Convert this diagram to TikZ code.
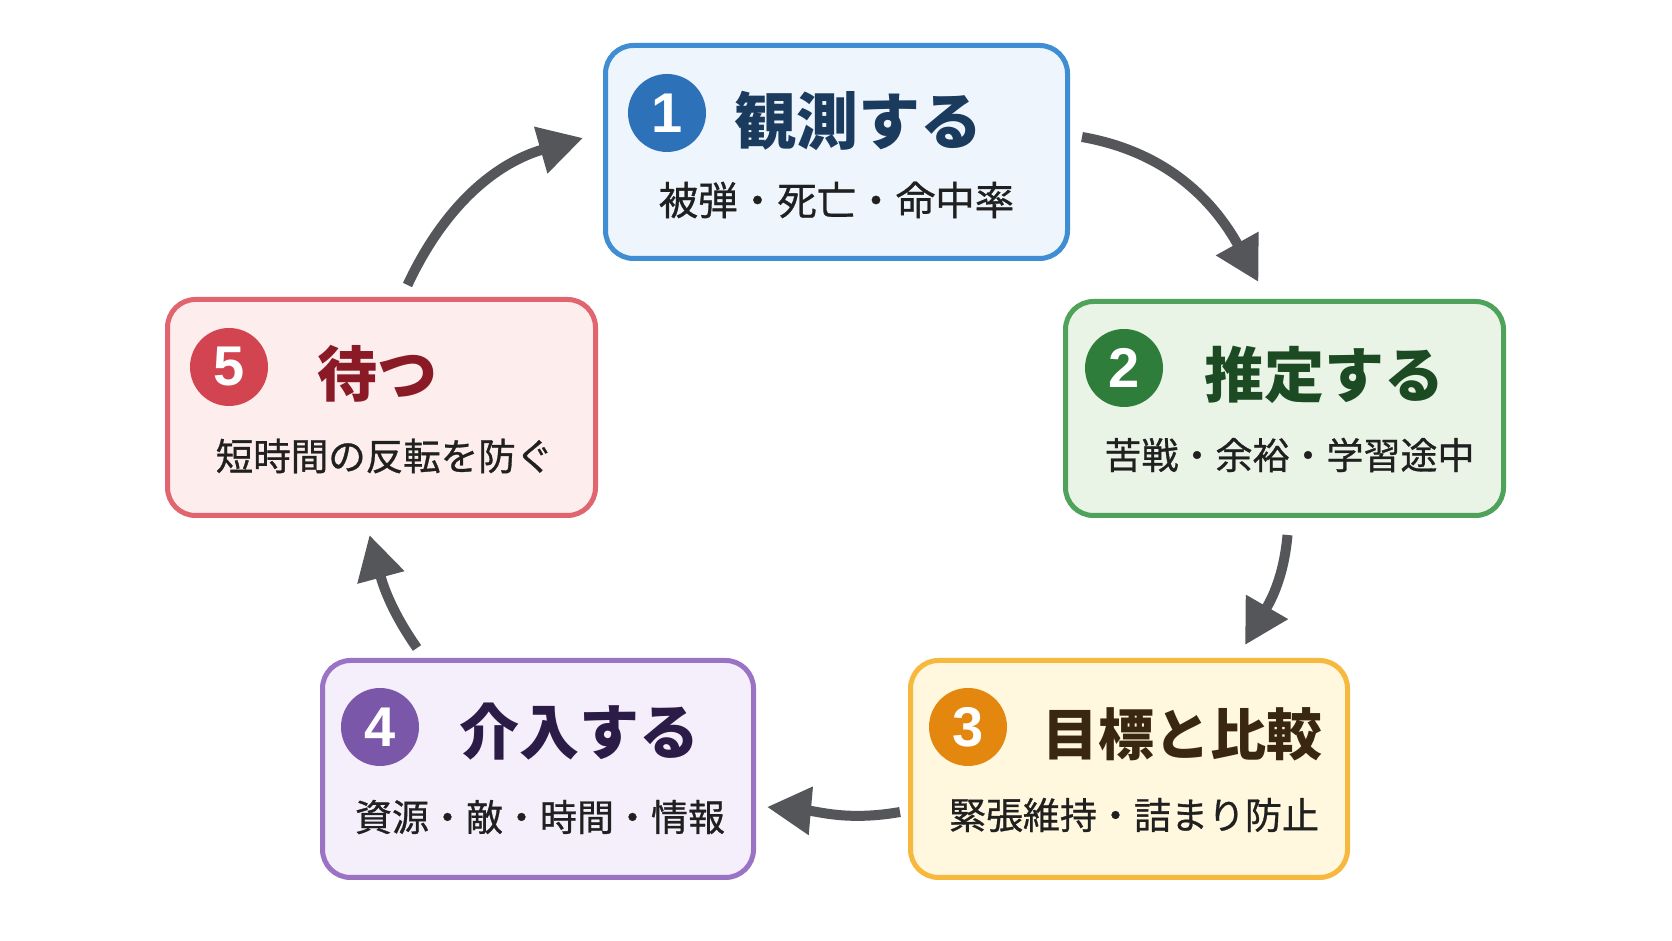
\documentclass[tikz,border=0pt]{standalone}
\usepackage{fontspec}
\setmainfont{Noto Sans CJK JP}
\newfontfamily\subfont[FakeBold=0.8]{Noto Sans CJK JP}
\newfontfamily\numfont{Liberation Sans}
\usetikzlibrary{arrows.meta}
% colours of the five steps
\definecolor{blueline}{HTML}{3F8DD2}\definecolor{bluefill}{HTML}{EEF5FC}
\definecolor{bluebadge}{HTML}{2D72B8}\definecolor{bluetext}{HTML}{1A3B5E}
\definecolor{greenline}{HTML}{4EA25A}\definecolor{greenfill}{HTML}{E9F4E7}
\definecolor{greenbadge}{HTML}{2F7D3B}\definecolor{greentext}{HTML}{1C4A22}
\definecolor{orangeline}{HTML}{F6B93E}\definecolor{orangefill}{HTML}{FFF7DE}
\definecolor{orangebadge}{HTML}{E4870F}\definecolor{orangetext}{HTML}{3A2712}
\definecolor{purpleline}{HTML}{9B73C5}\definecolor{purplefill}{HTML}{F5EFFB}
\definecolor{purplebadge}{HTML}{7B57A9}\definecolor{purpletext}{HTML}{2B1B47}
\definecolor{redline}{HTML}{E0656E}\definecolor{redfill}{HTML}{FDEDED}
\definecolor{redbadge}{HTML}{D2444F}\definecolor{redtext}{HTML}{8B1A27}
\definecolor{arrowgray}{HTML}{545659}
\definecolor{subtext}{HTML}{202020}
\begin{document}
\begin{tikzpicture}[x=1pt,y=1pt,
	box/.style={draw=#1line,fill=#1fill,line width=5pt,rounded corners=28pt},
	badge/.style={circle,fill=#1badge,minimum size=78pt,inner sep=0,text=white,
		font=\numfont\bfseries\fontsize{56}{56}\selectfont},
	title/.style={anchor=west,inner sep=0,text=#1text,
		font=\bfseries\fontsize{60}{60}\selectfont},
	sub/.style={inner sep=0,text=subtext,font=\subfont\fontsize{37}{37}\selectfont},
	flow/.style={draw=arrowgray,line width=10pt,-{Triangle[length=44pt,width=46pt]}}]
\fill[white] (0,0) rectangle (1672,941);
\useasboundingbox (0,0) rectangle (1672,941);
% boxes
\node[box=blue,minimum width=462pt,minimum height=213pt] (obs) at (836.5,789) {};
\node[box=green,minimum width=438pt,minimum height=214pt] (est) at (1284.5,532.5) {};
\node[box=orange,minimum width=437pt,minimum height=217pt] (cmp) at (1129,172) {};
\node[box=purple,minimum width=431pt,minimum height=217pt] (act) at (538,172) {};
\node[box=red,minimum width=428pt,minimum height=216pt] (wait) at (381.5,533.5) {};
% 1
\node[badge=blue] (obsn) at ([xshift=64,yshift=-70]obs.north west) {1};
\node[title=blue,font=\bfseries\fontsize{62}{62}\selectfont] (obst) at ([xshift=131,yshift=-78]obs.north west) {観測する};
\node[sub,font=\subfont\fontsize{39.5}{39.5}\selectfont] (obss) at ([yshift=-157]obs.north) {被弾・死亡・命中率};
% 2
\node[badge=green] (estn) at ([xshift=61,yshift=-69]est.north west) {2};
\node[title=green] (estt) at ([xshift=141,yshift=-76]est.north west) {推定する};
\node[sub] (ests) at ([xshift=5,yshift=-156]est.north) {苦戦・余裕・学習途中};
% 3
\node[badge=orange] (cmpn) at ([xshift=60,yshift=-69]cmp.north west) {3};
\node[title=orange,font=\bfseries\fontsize{56}{56}\selectfont] (cmpt) at ([xshift=134,yshift=-76]cmp.north west) {目標と比較};
\node[sub] (cmps) at ([xshift=5,yshift=-157]cmp.north) {緊張維持・詰まり防止};
% 4
\node[badge=purple] (actn) at ([xshift=60,yshift=-69]act.north west) {4};
\node[title=purple] (actt) at ([xshift=139,yshift=-74]act.north west) {介入する};
\node[sub] (acts) at ([xshift=2,yshift=-159]act.north) {資源・敵・時間・情報};
% 5
\node[badge=red] (waitn) at ([xshift=64,yshift=-70]wait.north west) {5};
\node[title=red] (waitt) at ([xshift=152,yshift=-77]wait.north west) {待つ};
\node[sub,font=\subfont\fontsize{37.5}{37.5}\selectfont] (waits) at ([xshift=3,yshift=-159]wait.north) {短時間の反転を防ぐ};
% cycle
\draw[flow] ([shift={(12,15)}]obs.east) to[out=-10,in=119] ([shift={(-26,17)}]est.north);
\draw[flow] ([shift={(3,-17)}]est.south) to[out=-95,in=60] ([shift={(116,13)}]cmp.north);
\draw[flow] ([shift={(-8,-43)}]cmp.west) to[out=190,in=-5] ([shift={(11,-38)}]act.east);
\draw[flow] ([shift={(97,10)}]act.north west) to[out=125,in=-75] ([shift={(-12,-17)}]wait.south);
\draw[flow] ([shift={(26,12)}]wait.north) to[out=65,in=-164] ([shift={(-20,14)}]obs.west);
\end{tikzpicture}
\end{document}
